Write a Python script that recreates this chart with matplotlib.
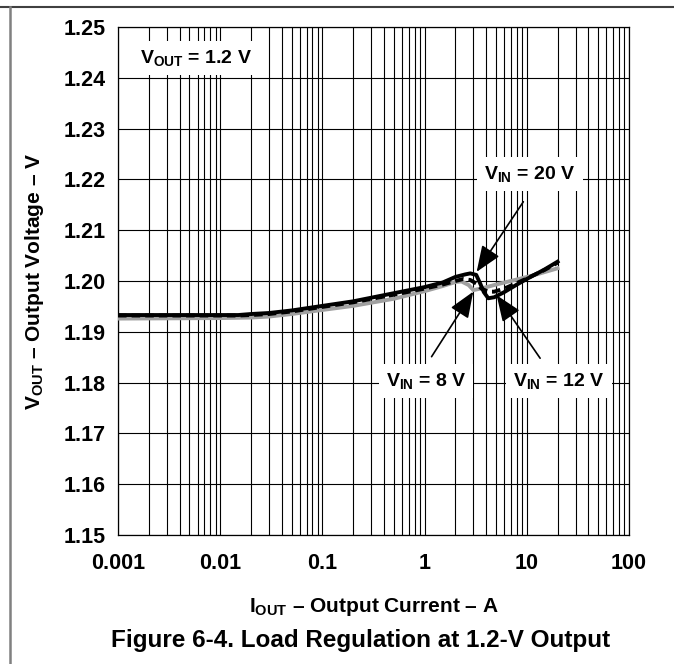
import matplotlib
matplotlib.use("Agg")
import matplotlib.pyplot as plt
from matplotlib.lines import Line2D
from matplotlib.ticker import FixedLocator, LogLocator, NullFormatter

plt.rcParams["font.family"] = ["Liberation Sans", "DejaVu Sans"]
plt.rcParams["font.weight"] = "bold"
plt.rcParams["mathtext.fontset"] = "custom"
plt.rcParams["mathtext.rm"] = "Liberation Sans:bold"
plt.rcParams["mathtext.bf"] = "Liberation Sans:bold"
plt.rcParams["mathtext.it"] = "Liberation Sans:bold"

# VIN = 20 V (solid black)
i_20v = [0.001, 0.005, 0.01, 0.015, 0.02, 0.03, 0.05, 0.1, 0.2, 0.5, 1.0, 1.5,
         2.0, 2.5, 2.8, 3.2, 3.5, 3.8, 4.2, 4.8, 6, 8, 10, 15, 20]
v_20v = [1.1933, 1.1933, 1.1933, 1.1933, 1.1935, 1.1937, 1.1942, 1.1951, 1.1960,
         1.1976, 1.1988, 1.1997, 1.2008, 1.2013, 1.2015, 1.2012, 1.1995, 1.1978,
         1.1966, 1.1968, 1.1978, 1.1993, 1.2004, 1.2023, 1.2038]

# VIN = 12 V (dashed black)
i_12v = [0.001, 0.005, 0.01, 0.015, 0.02, 0.03, 0.05, 0.1, 0.2, 0.5, 1.0, 1.5,
         2.0, 2.4, 2.8, 3.2, 3.6, 4.2, 4.8, 6, 8, 10, 15, 20]
v_12v = [1.1932, 1.1932, 1.1932, 1.1932, 1.1933, 1.1935, 1.1940, 1.1949, 1.1958,
         1.1973, 1.1985, 1.1993, 1.2000, 1.2004, 1.2002, 1.1995, 1.1985, 1.1979,
         1.1979, 1.1985, 1.1996, 1.2005, 1.2022, 1.2036]

# VIN = 8 V (gray)
i_8v = [0.001, 0.01, 0.02, 0.03, 0.05, 0.1, 0.2, 0.5, 1.0, 1.5, 2.0, 2.3, 2.7,
        3.0, 3.7, 5, 8, 12, 20]
v_8v = [1.1926, 1.1927, 1.1928, 1.1930, 1.1935, 1.1943, 1.1951, 1.1965, 1.1980,
        1.1990, 1.1998, 1.1999, 1.1992, 1.1982, 1.1986, 1.1993, 1.2003, 1.2012,
        1.2025]

x_ticks = [0.001, 0.01, 0.1, 1, 10, 100]
x_tick_labels = ["0.001", "0.01", "0.1", "1", "10", "100"]
y_ticks = [1.15, 1.16, 1.17, 1.18, 1.19, 1.20, 1.21, 1.22, 1.23, 1.24, 1.25]
y_tick_labels = ["1.15", "1.16", "1.17", "1.18", "1.19", "1.20", "1.21",
                 "1.22", "1.23", "1.24", "1.25"]

fig = plt.figure(figsize=(6.74, 6.64), dpi=100)
ax = fig.add_axes([118 / 674, 1 - 535 / 664, 511 / 674, 508 / 664])

ax.plot(i_8v, v_8v, color="#a0a0a0", lw=2.8, zorder=3)
ax.plot(i_20v, v_20v, color="black", lw=2.8, zorder=4)
ax.plot(i_12v, v_12v, color="black", lw=2.8, ls=(0, (2.2, 1.3)), zorder=5)

ax.set_xscale("log")
ax.set_xlim(0.001, 100)
ax.set_ylim(1.15, 1.25)
ax.xaxis.set_major_locator(FixedLocator(x_ticks))
ax.set_xticklabels(x_tick_labels)
ax.xaxis.set_minor_locator(LogLocator(base=10, subs=range(2, 10)))
ax.xaxis.set_minor_formatter(NullFormatter())
ax.set_yticks(y_ticks)
ax.set_yticklabels(y_tick_labels)
ax.tick_params(which="both", length=0, labelsize=15.5)
ax.tick_params(axis="x", pad=13)
ax.tick_params(axis="y", pad=9)
ax.grid(True, which="both", axis="x", color="black", lw=0.8)
ax.grid(True, which="major", axis="y", color="black", lw=0.8)
ax.set_axisbelow(True)
for s in ax.spines.values():
    s.set_linewidth(0.9)

box = dict(facecolor="white", edgecolor="none", pad=5)
ax.text(0.0058, 1.2439, r"$\mathbf{V_{OUT}}$ = 1.2 V", fontsize=14,
        ha="center", va="center", bbox=box, zorder=6)
ax.text(10.7, 1.2211, r"$\mathbf{V_{IN}}$ = 20 V", fontsize=14,
        ha="center", va="center", bbox=box, zorder=6)
ax.text(1.03, 1.1803, r"$\mathbf{V_{IN}}$ = 8 V", fontsize=14,
        ha="center", va="center", bbox=box, zorder=6)
ax.text(20.7, 1.1803, r"$\mathbf{V_{IN}}$ = 12 V", fontsize=14,
        ha="center", va="center", bbox=box, zorder=6)

arrow = dict(arrowstyle="-|>,head_length=0.8,head_width=0.32", color="black",
             lw=1.2, mutation_scale=20, shrinkA=0, shrinkB=0)
ax.annotate("", xy=(3.23, 1.2018), xytext=(9.25, 1.2156), arrowprops=arrow, zorder=7)
ax.annotate("", xy=(2.99, 1.1979), xytext=(1.17, 1.1851), arrowprops=arrow, zorder=7)
ax.annotate("", xy=(5.07, 1.1972), xytext=(13.5, 1.1848), arrowprops=arrow, zorder=7)

fig.text(35 / 674, 1 - 281 / 664, r"$\mathbf{V_{OUT}}$ – Output Voltage – V",
         rotation=90, ha="center", va="center", fontsize=15)
fig.text(374 / 674, 1 - 607 / 664, r"$\mathbf{I_{OUT}}$ – Output Current – A",
         ha="center", va="center", fontsize=15)
fig.text(361 / 674, 1 - 641 / 664, "Figure 6-4. Load Regulation at 1.2-V Output",
         ha="center", va="center", fontsize=17.5)

# page frame lines
fig.add_artist(Line2D([0, 1], [1 - 7 / 664, 1 - 7 / 664], color="#404040", lw=1.5))
fig.add_artist(Line2D([10 / 674, 10 / 674], [0, 1 - 7 / 664], color="#808080", lw=1.8))

fig.savefig("out.png", dpi=100)
